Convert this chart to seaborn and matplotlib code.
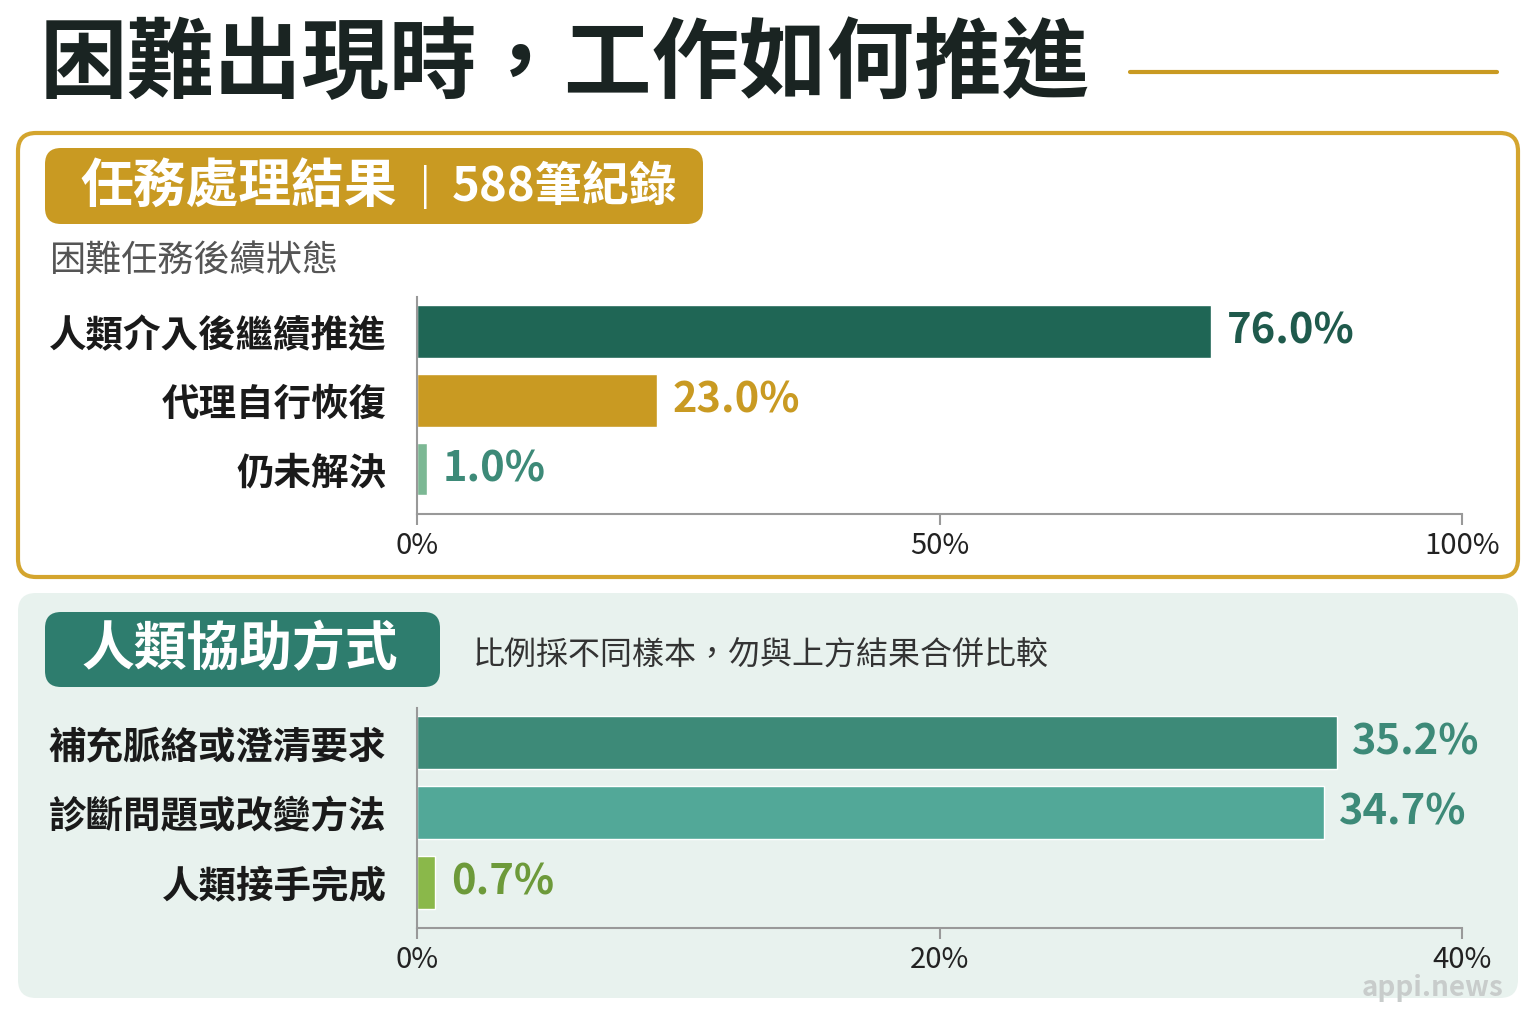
import numpy as np
import pandas as pd
import matplotlib.pyplot as plt
import seaborn as sns
from matplotlib.patches import FancyBboxPatch
from matplotlib.lines import Line2D

sns.set_theme(style="white")
plt.rcParams['font.family'] = ['Noto Sans CJK TC', 'DejaVu Sans']

# data
result_labels = ['人類介入後繼續推進', '代理自行恢復', '仍未解決']
result_values = [76.0, 23.0, 1.0]
result_colors = ['#1f6655', '#c99a22', '#7cb894']
result_text_colors = ['#1f5a4c', '#c99a22', '#3d8a78']

help_labels = ['補充脈絡或澄清要求', '診斷問題或改變方法', '人類接手完成']
help_values = [35.2, 34.7, 0.7]
help_colors = ['#3d8a78', '#52a898', '#8ab84a']
help_text_colors = ['#3d8a78', '#3d8a78', '#6d9a3a']

W, H = 1536, 1024
fig = plt.figure(figsize=(W / 100, H / 100), dpi=100)
fig.patch.set_facecolor('white')


def px(x, y):
    return x / W, 1 - y / H


def box(x0, y0, x1, y1, fc, ec, lw, r):
    p = FancyBboxPatch(px(x0, y1), (x1 - x0) / W, (y1 - y0) / H,
                       boxstyle=f"round,pad=0,rounding_size={r / W}",
                       transform=fig.transFigure, fc=fc, ec=ec, lw=lw,
                       mutation_aspect=W / H, zorder=0)
    fig.add_artist(p)


def ftext(x, y, s, **kw):
    fig.text(*px(x, y), s, **kw)


# title
ftext(40, 66, '困難出現時，工作如何推進', fontsize=63, fontweight='black',
      color='#1a2422', va='center', ha='left')
fig.add_artist(Line2D([1130 / W, 1497 / W], [1 - 72 / H] * 2,
                      color='#c99a22', lw=3, transform=fig.transFigure))

# panels
box(18, 133, 1518, 577, 'white', '#d4a52e', 3, 18)
box(45, 148, 703, 224, '#c99a22', 'none', 0, 16)
ftext(80, 187, '任務處理結果', fontsize=38, fontweight='bold', color='white', va='center')
ftext(420, 187, '|', fontsize=28, color='white', va='center')
ftext(452, 187, '588筆紀錄', fontsize=34, fontweight='bold', color='white', va='center')
ftext(50, 261, '困難任務後續狀態', fontsize=26, fontweight='medium', color='#555555', va='center')

box(18, 593, 1518, 998, '#e8f2ee', 'none', 0, 18)
box(45, 612, 440, 687, '#2e7d6e', 'none', 0, 16)
ftext(82, 650, '人類協助方式', fontsize=38, fontweight='bold', color='white', va='center')
ftext(473, 655, '比例採不同樣本，勿與上方結果合併比較', fontsize=23, fontweight='medium',
      color='#333333', va='center')
ftext(1503, 988, 'appi.news', fontsize=20, fontweight='bold', color='#c8cccb',
      va='center', ha='right')


def bar_panel(top, bottom, labels, values, colors, tcolors, xmax, ticks):
    x0, x1 = px(417, bottom)[0], px(1462, bottom)[0]
    ax = fig.add_axes([x0, 1 - bottom / H, x1 - x0, (bottom - top) / H])
    ax.set_facecolor('none')
    df = pd.DataFrame({'label': labels, 'value': values})
    sns.barplot(data=df, x='value', y='label', hue='label', palette=colors,
                legend=False, width=0.76, saturation=1, ax=ax)
    ax.set_xlim(0, xmax)
    ax.set_ylim(2.65, -0.5)
    ax.set_xlabel('')
    ax.set_ylabel('')
    for s in ['top', 'right']:
        ax.spines[s].set_visible(False)
    for s in ['left', 'bottom']:
        ax.spines[s].set_color('#999999')
        ax.spines[s].set_linewidth(1.5)
    ax.set_xticks(ticks)
    ax.set_xticklabels([f'{t:g}%' for t in ticks], fontsize=21, fontweight='medium',
                       color='#222222')
    ax.tick_params(axis='x', length=8, width=1.5, color='#999999', pad=4, bottom=True)
    ax.tick_params(axis='y', length=0, pad=22)
    for t in ax.get_yticklabels():
        t.set_fontsize(27)
        t.set_fontweight('bold')
        t.set_color('#1a1a1a')
    for i, (v, c) in enumerate(zip(values, tcolors)):
        ax.text(v + xmax * 0.015, i, f'{v:.1f}%', fontsize=30, fontweight='bold',
                color=c, va='center', ha='left')
    return ax


bar_panel(297, 514, result_labels, result_values, result_colors,
          result_text_colors, 100, [0, 50, 100])
bar_panel(708, 928, help_labels, help_values, help_colors,
          help_text_colors, 40, [0, 20, 40])

plt.savefig('out.png', dpi=100)
